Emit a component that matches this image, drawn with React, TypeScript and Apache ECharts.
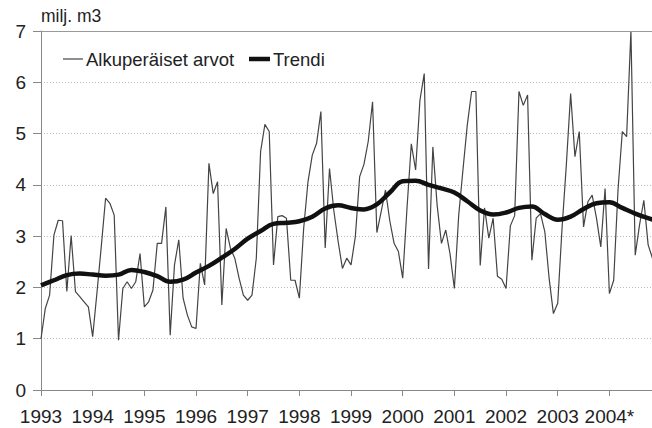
import { useEffect, useRef } from 'react';
import * as echarts from 'echarts';

// ---- data ----
const START_YEAR = 1993;
const yearTicks = [1993, 1994, 1995, 1996, 1997, 1998, 1999, 2000, 2001, 2002, 2003, 2004];
const xTickLabels = ['1993', '1994', '1995', '1996', '1997', '1998', '1999', '2000', '2001', '2002', '2003', '2004*'];
const unitLabel = 'milj. m3';
const seriesNames = ['Alkuperäiset arvot', 'Trendi'];

// monthly original values, one array per year
const v1993 = [1.0, 1.59, 1.85, 3.02, 3.31, 3.3, 1.92, 3.01, 1.92, 1.82, 1.72, 1.62];
const v1994 = [1.04, 1.9, 2.8, 3.74, 3.64, 3.41, 0.97, 1.98, 2.11, 1.98, 2.11, 2.66];
const v1995 = [1.62, 1.72, 1.95, 2.86, 2.86, 3.57, 1.07, 2.44, 2.93, 1.79, 1.46, 1.23];
const v1996 = [1.2, 2.47, 2.05, 4.42, 3.83, 4.06, 1.66, 3.15, 2.76, 2.57, 2.18, 1.85];
const v1997 = [1.75, 1.85, 2.57, 4.65, 5.18, 5.04, 2.44, 3.38, 3.4, 3.35, 2.14, 2.14];
const v1998 = [1.79, 3.15, 4.06, 4.58, 4.81, 5.43, 2.77, 4.32, 3.5, 2.9, 2.37, 2.57];
const v1999 = [2.44, 2.99, 4.16, 4.4, 4.85, 5.62, 3.07, 3.48, 3.9, 3.3, 2.86, 2.7];
const v2000 = [2.18, 3.55, 4.8, 4.29, 5.65, 6.17, 2.36, 4.74, 3.6, 2.86, 3.12, 2.65];
const v2001 = [1.98, 3.4, 4.3, 5.17, 5.82, 5.82, 2.43, 3.55, 2.96, 3.35, 2.22, 2.16];
const v2002 = [1.98, 3.2, 3.4, 5.82, 5.55, 5.75, 2.53, 3.35, 3.44, 3.09, 2.18, 1.49];
const v2003 = [1.69, 3.15, 4.39, 5.78, 4.55, 5.04, 3.18, 3.67, 3.8, 3.35, 2.79, 3.93];
const v2004 = [1.88, 2.14, 3.9, 5.04, 4.94, 7.0, 2.63, 3.22, 3.7, 2.83, 2.57];

const originalValues = [
  ...v1993, ...v1994, ...v1995, ...v1996, ...v1997, ...v1998,
  ...v1999, ...v2000, ...v2001, ...v2002, ...v2003, ...v2004,
];

// trend, read every quarter of a year from 1993.00
const trendValues = [
  2.04, 2.14, 2.24, 2.27, // 1993
  2.25, 2.23, 2.25, 2.34, // 1994
  2.3, 2.22, 2.11, 2.15, // 1995
  2.29, 2.42, 2.58, 2.75, // 1996
  2.95, 3.1, 3.24, 3.26, // 1997
  3.29, 3.38, 3.54, 3.6, // 1998
  3.55, 3.52, 3.62, 3.85, // 1999
  4.07, 4.08, 4.0, 3.93, // 2000
  3.85, 3.68, 3.5, 3.42, // 2001
  3.46, 3.55, 3.58, 3.43, // 2002
  3.32, 3.38, 3.53, 3.64, // 2003
  3.66, 3.55, 3.44, 3.35, // 2004
  3.28, // 2005
];

export default function App() {
  const ref = useRef<HTMLDivElement>(null);

  useEffect(() => {
    if (!ref.current) return;
    const chart = echarts.init(ref.current, undefined, { renderer: 'svg' });

    const originalData = originalValues.map((v, i) => [START_YEAR + i / 12, v]);
    const trendData = trendValues.map((v, i) => [START_YEAR + i / 4, v]);

    const font = "'Liberation Sans', Arial, Helvetica, sans-serif";
    const legendY = 59;

    chart.setOption({
      animation: false,
      backgroundColor: '#ffffff',
      textStyle: { fontFamily: font },
      grid: { left: 41, top: 31, bottom: 38, right: 8.6, containLabel: false },
      legend: { show: false },
      graphic: [
        {
          type: 'line',
          silent: true,
          shape: { x1: 63, y1: legendY, x2: 83, y2: legendY },
          style: { stroke: '#444', lineWidth: 1.2 },
        },
        {
          type: 'text',
          silent: true,
          x: 86,
          y: legendY,
          style: {
            text: seriesNames[0],
            fontSize: 18.5,
            fontFamily: font,
            fill: '#222',
            verticalAlign: 'middle',
            align: 'left',
          },
        },
        {
          type: 'line',
          silent: true,
          shape: { x1: 249, y1: legendY, x2: 270, y2: legendY },
          style: { stroke: '#111', lineWidth: 4.5 },
        },
        {
          type: 'text',
          silent: true,
          x: 273,
          y: legendY,
          style: {
            text: seriesNames[1],
            fontSize: 18.5,
            fontFamily: font,
            fill: '#222',
            verticalAlign: 'middle',
            align: 'left',
          },
        },
      ],
      xAxis: {
        type: 'value',
        min: 1993,
        max: 2005.2,
        interval: 1,
        axisLine: { show: true, lineStyle: { color: '#888', width: 1 } },
        axisTick: { show: true, length: 6, lineStyle: { color: '#888' } },
        splitLine: { show: false },
        axisLabel: {
          fontSize: 19,
          color: '#222',
          margin: 17,
          fontFamily: font,
          formatter: (val: number) => {
            const idx = yearTicks.indexOf(Math.round(val * 1000) / 1000);
            return idx >= 0 ? xTickLabels[idx] : '';
          },
        },
      },
      yAxis: {
        type: 'value',
        min: 0,
        max: 7,
        interval: 1,
        name: unitLabel,
        nameLocation: 'end',
        nameGap: 6,
        nameTextStyle: { align: 'left', fontSize: 17.5, color: '#222', fontFamily: font },
        axisLine: { show: true, lineStyle: { color: '#888', width: 1 } },
        axisTick: { show: true, length: 8, lineStyle: { color: '#888' } },
        axisLabel: { fontSize: 19, color: '#222', margin: 15, fontFamily: font },
        splitLine: { show: true, lineStyle: { color: '#bbb', type: [1, 2], width: 1 } },
      },
      series: [
        {
          name: seriesNames[0],
          type: 'line',
          data: originalData,
          symbol: 'none',
          showSymbol: false,
          lineStyle: { color: '#444', width: 1.2 },
          itemStyle: { color: '#444' },
          z: 2,
          markLine: {
            silent: true,
            symbol: ['none', 'none'],
            label: { show: false },
            lineStyle: { color: '#999', type: 'solid', width: 1 },
            data: [{ yAxis: 7 }],
          },
        },
        {
          name: seriesNames[1],
          type: 'line',
          data: trendData,
          symbol: 'none',
          showSymbol: false,
          smooth: 0.4,
          lineStyle: { color: '#111', width: 4.5 },
          itemStyle: { color: '#111' },
          z: 3,
        },
      ],
    });

    return () => chart.dispose();
  }, []);

  return (
    <div
      style={{
        position: 'fixed',
        left: 0,
        top: 0,
        width: 652,
        height: 428,
        overflow: 'hidden',
        background: '#fff',
      }}
    >
      <div ref={ref} style={{ width: 680, height: 428 }} />
    </div>
  );
}
